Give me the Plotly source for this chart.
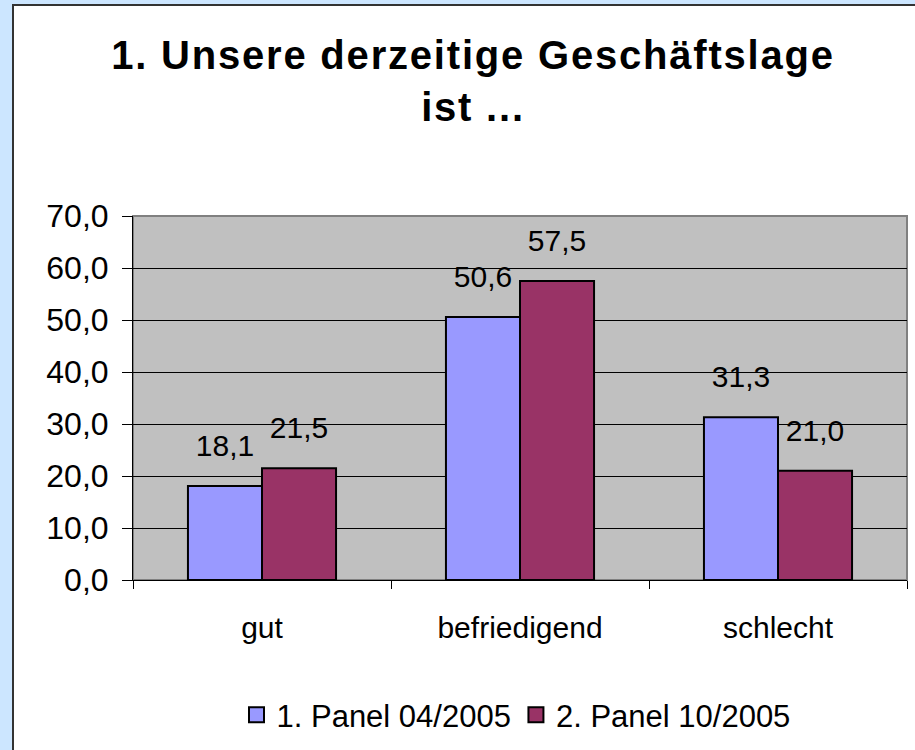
import plotly.graph_objects as go

# ---- data ----
categories = ["gut", "befriedigend", "schlecht"]
series_names = ["1. Panel 04/2005", "2. Panel 10/2005"]
panel1 = [18.1, 50.6, 31.3]
panel2 = [21.5, 57.5, 21.0]
y_ticks = [0, 10, 20, 30, 40, 50, 60, 70]

title_lines = ["1. Unsere derzeitige Geschäftslage", "ist ..."]

# ---- style ----
W, H = 915, 750
ML, MR, MT, MB = 133, 8, 216, 170
PW = W - ML - MR
PH = H - MT - MB
colors = ["#9999FF", "#993366"]
FONT = "Liberation Sans, Arial, sans-serif"

def px_x(px):
    return (px - ML) / PW

def px_y(py):
    return (H - MB - py) / PH

fig = go.Figure()

for name, vals, col, grp in zip(series_names, [panel1, panel2], colors, ["a", "b"]):
    fig.add_trace(go.Bar(
        x=categories, y=vals, name=name, offsetgroup=grp,
        marker=dict(color=col, line=dict(color="#000000", width=2)),
        showlegend=False, hoverinfo="skip",
    ))
for name, vals, col, grp in zip(series_names, [panel1, panel2], colors, ["a", "b"]):
    fig.add_trace(go.Scatter(
        x=categories, y=vals, offsetgroup=grp, mode="markers+text",
        texttemplate="%{y:.1f}", textposition="top center",
        textfont=dict(size=30, color="#000000", family=FONT),
        marker=dict(size=34, opacity=0),
        showlegend=False, hoverinfo="skip",
    ))
for name, col in zip(series_names, colors):
    fig.add_trace(go.Scatter(
        x=[None], y=[None], mode="markers", name=name,
        marker=dict(symbol="square", size=15, color=col,
                    line=dict(color="#000000", width=2)),
    ))

span = "<span style='letter-spacing:1.8px'>{}</span>"
title_html = "<br>".join(span.format(t) for t in title_lines)

fig.update_layout(
    width=W, height=H,
    margin=dict(l=ML, r=MR, t=MT, b=MB, pad=0),
    paper_bgcolor="#CCE6FF",
    plot_bgcolor="rgba(0,0,0,0)",
    separators=",.",
    barmode="group", bargap=0.426, bargroupgap=0,
    scattermode="group", scattergap=0.426,
    font=dict(family=FONT, size=30, color="#000000"),
    title=dict(
        text=title_html,
        font=dict(size=40, family=FONT, color="#000000", weight="bold"),
        x=473 / W, xanchor="center",
        y=1 - 69 / H, yanchor="top",
    ),
    showlegend=True,
    legend=dict(
        orientation="h", x=px_x(516), xanchor="center",
        y=px_y(715), yanchor="middle",
        font=dict(size=31, family=FONT, color="#000000"),
        bgcolor="rgba(0,0,0,0)", itemclick=False,
    ),
    shapes=[
        dict(type="rect", xref="paper", yref="paper", layer="below",
             x0=px_x(13), x1=px_x(W + 20), y0=px_y(H + 20), y1=px_y(5),
             fillcolor="#FFFFFF", line=dict(color="#333333", width=2)),
        dict(type="rect", xref="paper", yref="paper", layer="below",
             x0=0, x1=1, y0=0, y1=1,
             fillcolor="#C0C0C0", line=dict(color="#808080", width=2)),
    ],
)

fig.update_yaxes(
    range=[0, 70], tickvals=y_ticks, tickformat=".1f",
    showgrid=True, gridcolor="#000000", gridwidth=1,
    showline=True, linecolor="#000000", linewidth=1,
    ticks="outside", ticklen=10, tickcolor="#000000",
    tickfont=dict(size=32, family=FONT, color="#000000"),
    ticklabelstandoff=7,
    zeroline=False, fixedrange=True,
)
fig.update_xaxes(
    showgrid=False, showline=True, linecolor="#000000", linewidth=1,
    ticks="outside", ticklen=8, tickcolor="#000000", tickson="boundaries",
    tickfont=dict(size=30, family=FONT, color="#000000"),
    ticklabelstandoff=21, fixedrange=True,
)

fig.write_html(
    "out.html",
    config={"displayModeBar": False},
    post_script="document.body.style.margin='0';document.body.style.background='#CCE6FF';",
)
